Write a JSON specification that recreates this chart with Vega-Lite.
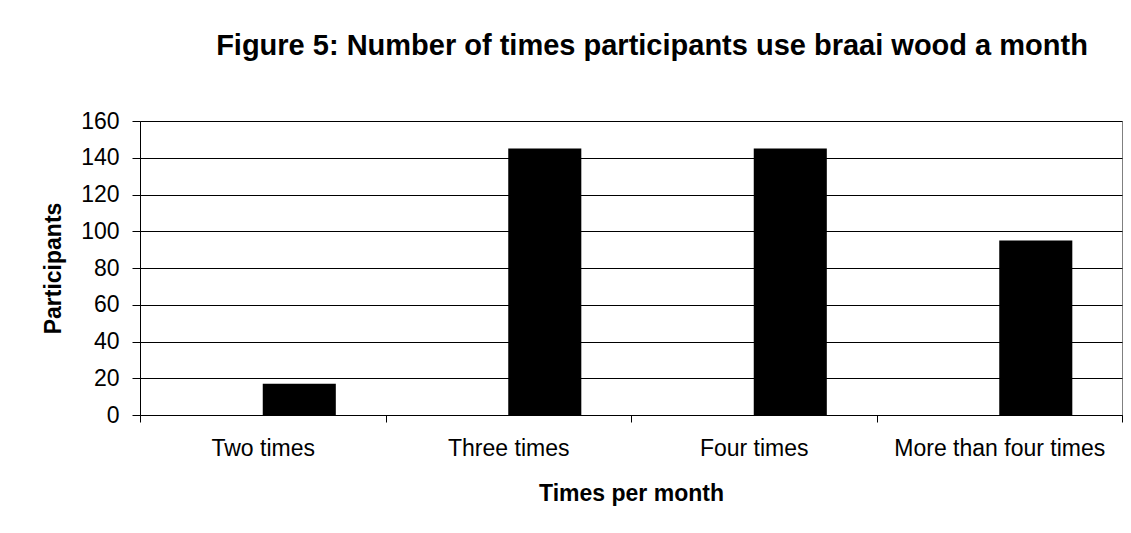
{
  "$schema": "https://vega.github.io/schema/vega-lite/v6.json",
  "autosize": {"type": "none"},
  "padding": {"left": 140, "top": 121, "right": 9, "bottom": 118},
  "width": 982,
  "height": 294,
  "background": "white",
  "title": {
    "text": "Figure 5: Number of times participants use braai wood a month",
    "font": "Liberation Sans",
    "fontSize": 29,
    "fontWeight": "bold",
    "color": "black",
    "anchor": "middle",
    "dx": 21,
    "baseline": "alphabetic",
    "offset": 26
  },
  "data": {
    "values": [
      {"times": "Two times", "series": "Participants", "count": 17},
      {"times": "Three times", "series": "Participants", "count": 145},
      {"times": "Four times", "series": "Participants", "count": 145},
      {"times": "More than four times", "series": "Participants", "count": 95}
    ]
  },
  "mark": {"type": "bar", "color": "black"},
  "encoding": {
    "x": {
      "field": "times",
      "type": "nominal",
      "sort": ["Two times", "Three times", "Four times", "More than four times"],
      "scale": {"paddingInner": 0, "paddingOuter": 0},
      "axis": {
        "title": "Times per month",
        "labelAngle": 0,
        "labelLimit": 0,
        "tickBand": "extent",
        "grid": false,
        "domainColor": "black",
        "tickColor": "black",
        "tickSize": 7,
        "labelPadding": 15,
        "labelFont": "Liberation Sans",
        "labelFontSize": 23,
        "labelColor": "black",
        "titleFont": "Liberation Sans",
        "titleFontSize": 23,
        "titleFontWeight": "bold",
        "titleColor": "black",
        "titlePadding": 22
      }
    },
    "xOffset": {
      "field": "series",
      "type": "nominal",
      "scale": {"domain": ["blank", "Participants"], "paddingInner": 0, "paddingOuter": 0.68}
    },
    "y": {
      "field": "count",
      "type": "quantitative",
      "scale": {"domain": [0, 160], "nice": false},
      "axis": {
        "title": "Participants",
        "values": [0, 20, 40, 60, 80, 100, 120, 140, 160],
        "grid": true,
        "gridColor": "black",
        "gridOpacity": 1,
        "domainColor": "black",
        "tickColor": "black",
        "tickSize": 8,
        "labelPadding": 13,
        "labelFont": "Liberation Sans",
        "labelFontSize": 23,
        "labelColor": "black",
        "titleFont": "Liberation Sans",
        "titleFontSize": 23,
        "titleFontWeight": "bold",
        "titleColor": "black",
        "titlePadding": 15
      }
    }
  },
  "config": {
    "view": {"stroke": "#808080", "strokeWidth": 1}
  }
}
